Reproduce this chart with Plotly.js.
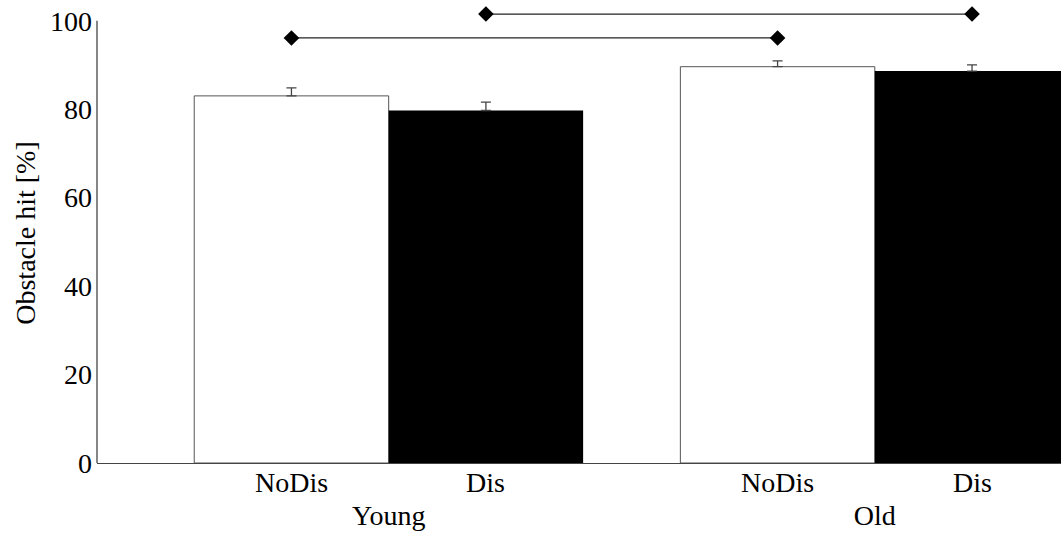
<!DOCTYPE html>
<html>
<head>
<meta charset="utf-8">
<script src="https://cdn.plot.ly/plotly-3.0.1.min.js"></script>
<style>html,body{margin:0;padding:0;background:#fff;}
#wrap{position:relative;width:1061px;height:533px;}
#pre{position:absolute;left:0;top:0;z-index:0;font-family:'Liberation Serif';font-size:28px;color:#fff;}
#chart{position:absolute;left:0;top:0;z-index:1;width:1061px;height:533px;}</style>
</head>
<body>
<div id="wrap">
<div id="pre">.</div>
<div id="chart"></div>
</div>
<script>
// Data
const groups = ['Young', 'Old'];
const conditions = ['NoDis', 'Dis'];
const noDisValues = [83.0, 89.6];
const noDisErrors = [1.8, 1.3];
const disValues = [79.7, 88.6];
const disErrors = [1.9, 1.4];
const yTicks = [0, 20, 40, 60, 80, 100];
// significance comparisons: [groupIndex, conditionIndex] pairs and the level
const sigPairs = [
  {a: [0, 0], b: [1, 0], level: 96.1},
  {a: [0, 1], b: [1, 1], level: 101.5}
];

const groupX = groups.map((g, i) => i);
const halfW = 0.2;
const condOffset = c => (c === 0 ? -halfW : halfW);

const traces = [
  {
    type: 'bar', name: conditions[0], x: groupX, y: noDisValues,
    offsetgroup: 'a',
    marker: {color: '#ffffff', line: {color: '#555555', width: 1}},
    error_y: {type: 'data', symmetric: false, array: noDisErrors, arrayminus: noDisErrors.map(() => 0),
              color: '#444444', thickness: 1.3, width: 5}
  },
  {
    type: 'bar', name: conditions[1], x: groupX, y: disValues,
    offsetgroup: 'b',
    marker: {color: '#000000', line: {color: '#000000', width: 0}},
    error_y: {type: 'data', symmetric: false, array: disErrors, arrayminus: disErrors.map(() => 0),
              color: '#444444', thickness: 1.3, width: 5}
  }
];

sigPairs.forEach(p => {
  traces.push({
    type: 'scatter', mode: 'lines+markers',
    x: [p.a[0] + condOffset(p.a[1]), p.b[0] + condOffset(p.b[1])],
    y: [p.level, p.level],
    line: {color: '#222222', width: 1.3},
    marker: {symbol: 'diamond', size: 12, color: '#000000'},
    cliponaxis: false, showlegend: false, hoverinfo: 'skip'
  });
});

const annotations = [];
groups.forEach((g, gi) => {
  conditions.forEach((c, ci) => {
    annotations.push({
      xref: 'x', yref: 'paper', x: gi + condOffset(ci), y: 0,
      yanchor: 'top', xanchor: 'center', yshift: -2,
      text: c, showarrow: false, font: {family: 'Liberation Serif', size: 28, color: '#000000'}
    });
  });
});

const layout = {
  width: 1061, height: 533,
  margin: {l: 97, r: 0, t: 3, b: 69.5},
  paper_bgcolor: 'rgba(0,0,0,0)', plot_bgcolor: 'rgba(0,0,0,0)',
  showlegend: false,
  font: {family: 'Liberation Serif', size: 28, color: '#000000'},
  barmode: 'group', bargap: 0.2, bargroupgap: 0,
  xaxis: {
    type: 'linear', range: [-0.6, 1.383],
    tickvals: groupX, ticktext: groups,
    ticks: '', showgrid: false, zeroline: false,
    showline: true, linecolor: '#444444', linewidth: 1.3,
    tickfont: {family: 'Liberation Serif', size: 28, color: '#000000'},
    ticklabelstandoff: 27
  },
  yaxis: {
    range: [0, 104],
    tickvals: yTicks, ticktext: yTicks.map(String),
    ticks: '', showgrid: false, zeroline: false, showline: false,
    tickfont: {family: 'Liberation Serif', size: 28, color: '#000000'},
    ticklabelstandoff: 4,
    title: {text: 'Obstacle hit [%]', font: {family: 'Liberation Serif', size: 28, color: '#000000'}, standoff: 6}
  },
  shapes: [
    {type: 'line', xref: 'paper', yref: 'y', x0: 0, x1: 0, y0: 0, y1: 100,
     line: {color: '#444444', width: 1.3}}
  ],
  annotations: annotations
};

Plotly.newPlot('chart', traces, layout, {staticPlot: true});
</script>
</body>
</html>
